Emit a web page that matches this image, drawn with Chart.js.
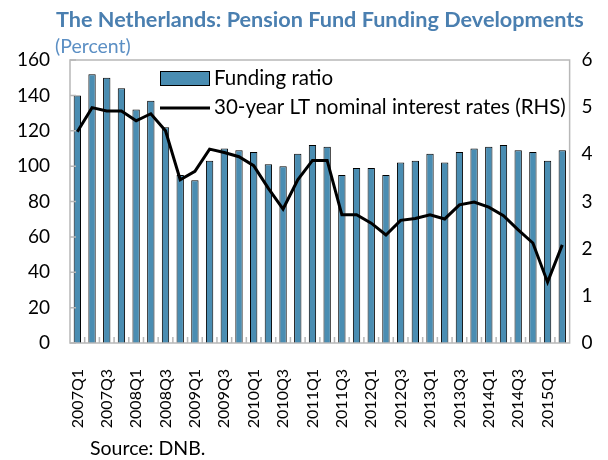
<!DOCTYPE html>
<html>
<head>
<meta charset="utf-8">
<script src="https://cdn.jsdelivr.net/npm/chart.js@4/dist/chart.umd.min.js"></script>
<style>
  body { margin: 0; background: #fff; }
  canvas { display: block; }
</style>
</head>
<body>
<canvas id="pension" width="608" height="460"></canvas>
<script>
const quarters = [
  '2007Q1', '2007Q2', '2007Q3', '2007Q4', '2008Q1', '2008Q2', '2008Q3', '2008Q4',
  '2009Q1', '2009Q2', '2009Q3', '2009Q4', '2010Q1', '2010Q2', '2010Q3', '2010Q4',
  '2011Q1', '2011Q2', '2011Q3', '2011Q4', '2012Q1', '2012Q2', '2012Q3', '2012Q4',
  '2013Q1', '2013Q2', '2013Q3', '2013Q4', '2014Q1', '2014Q2', '2014Q3', '2014Q4',
  '2015Q1', '2015Q2'
]
const fundingRatio = [
  140, 152, 150, 144, 132, 137, 122, 95,
  92, 103, 110, 109, 108, 101, 100, 107,
  112, 111, 95, 99, 99, 95, 102, 103,
  107, 102, 108, 110, 111, 112, 109, 108,
  103, 109
]
const longRate = [
  4.48, 4.99, 4.92, 4.92, 4.71, 4.86, 4.50, 3.46,
  3.64, 4.11, 4.04, 3.95, 3.76, 3.28, 2.84, 3.46,
  3.87, 3.87, 2.72, 2.72, 2.54, 2.29, 2.60, 2.64,
  2.72, 2.63, 2.93, 2.99, 2.88, 2.70, 2.40, 2.12,
  1.29, 2.08
]
const leftTicks = [0, 20, 40, 60, 80, 100, 120, 140, 160]
const rightTicks = [0, 1, 2, 3, 4, 5, 6]

const fontFamily = 'Lato, "Open Sans", sans-serif'
const barBlue = '#4a8db2'
const titleBlue = '#4a7fb0'

// titles, legend, frame, inner ticks and source are painted by hand
const decorations = {
  id: 'decorations',
  afterDraw (chart) {
    const ctx = chart.ctx
    const area = chart.chartArea
    const ys = chart.scales.y
    ctx.save()

    // frame around plot
    ctx.strokeStyle = '#b8b8b8'
    ctx.lineWidth = 1.5
    ctx.strokeRect(area.left, area.top, area.right - area.left, area.bottom - area.top)

    // small inward ticks
    ctx.beginPath()
    leftTicks.forEach(v => {
      const y = ys.getPixelForValue(v)
      ctx.moveTo(area.left, y)
      ctx.lineTo(area.left + 6, y)
    })
    const step = (area.right - area.left) / quarters.length
    for (let i = 1; i < quarters.length; i++) {
      const x = area.left + i * step
      ctx.moveTo(x, area.bottom)
      ctx.lineTo(x, area.bottom - 6)
    }
    ctx.stroke()

    // title
    const title = 'The Netherlands: Pension Fund Funding Developments'
    ctx.fillStyle = titleBlue
    ctx.font = 'bold 18px ' + fontFamily
    const tw = ctx.measureText(title).width
    ctx.font = 'bold ' + (18 * 528 / tw).toFixed(2) + 'px ' + fontFamily
    ctx.textBaseline = 'alphabetic'
    ctx.textAlign = 'left'
    ctx.fillText(title, 56, 27)

    ctx.fillStyle = '#5b8fc4'
    ctx.font = '19.5px ' + fontFamily
    ctx.fillText('(Percent)', 55, 53)

    // legend
    ctx.fillStyle = barBlue
    ctx.strokeStyle = '#000'
    ctx.lineWidth = 1
    ctx.fillRect(160, 71, 49, 14)
    ctx.strokeRect(160.5, 71.5, 49, 14)
    ctx.lineWidth = 3
    ctx.beginPath()
    ctx.moveTo(160, 108)
    ctx.lineTo(210, 108)
    ctx.stroke()
    ctx.fillStyle = '#000'
    ctx.font = '20.5px ' + fontFamily
    ctx.fillText('Funding ratio', 214, 85)
    ctx.fillText('30-year LT nominal interest rates (RHS)', 214, 114)

    // source
    ctx.font = '19.5px ' + fontFamily
    ctx.fillText('Source: DNB.', 90, 455)
    ctx.restore()
  }
}

const chart = new Chart(
  document.getElementById('pension').getContext('2d'),
  {
    data: {
      labels: quarters,
      datasets: [
        {
          type: 'line',
          label: '30-year LT nominal interest rates (RHS)',
          data: longRate,
          yAxisID: 'y1',
          borderColor: '#000',
          borderWidth: 3,
          pointRadius: 0,
          tension: 0,
          order: 0
        },
        {
          type: 'bar',
          label: 'Funding ratio',
          data: fundingRatio,
          yAxisID: 'y',
          backgroundColor: barBlue,
          borderColor: '#000',
          borderWidth: 1,
          barPercentage: 0.5,
          categoryPercentage: 1,
          order: 1
        }
      ]
    },
    options: {
      responsive: false,
      animation: false,
      layout: { padding: { top: 60, bottom: 22, left: 0, right: 0 } },
      scales: {
        x: {
          grid: { display: false, drawTicks: false },
          border: { display: false },
          afterFit: (scale) => { scale.height = 95 },
          ticks: {
            autoSkip: false,
            minRotation: 90,
            maxRotation: 90,
            padding: 26,
            color: '#000',
            font: { family: fontFamily, size: 16 },
            callback: function (value, index) {
              return index % 2 === 0 ? quarters[index] : ''
            }
          }
        },
        y: {
          position: 'left',
          min: 0,
          max: 160,
          grid: { display: false, drawTicks: false },
          border: { display: false },
          afterFit: (scale) => { scale.width = 70 },
          afterBuildTicks: (scale) => { scale.ticks = leftTicks.map(v => ({ value: v })) },
          ticks: {
            padding: 20,
            color: '#000',
            font: { family: fontFamily, size: 19 }
          }
        },
        y1: {
          position: 'right',
          min: 0,
          max: 6,
          grid: { display: false, drawTicks: false },
          border: { display: false },
          afterFit: (scale) => { scale.width = 36 },
          afterBuildTicks: (scale) => { scale.ticks = rightTicks.map(v => ({ value: v })) },
          ticks: {
            padding: 12,
            color: '#000',
            font: { family: fontFamily, size: 19 }
          }
        }
      },
      plugins: {
        legend: { display: false },
        title: { display: false },
        tooltip: { enabled: false }
      }
    },
    plugins: [decorations]
  }
)
</script>
</body>
</html>
